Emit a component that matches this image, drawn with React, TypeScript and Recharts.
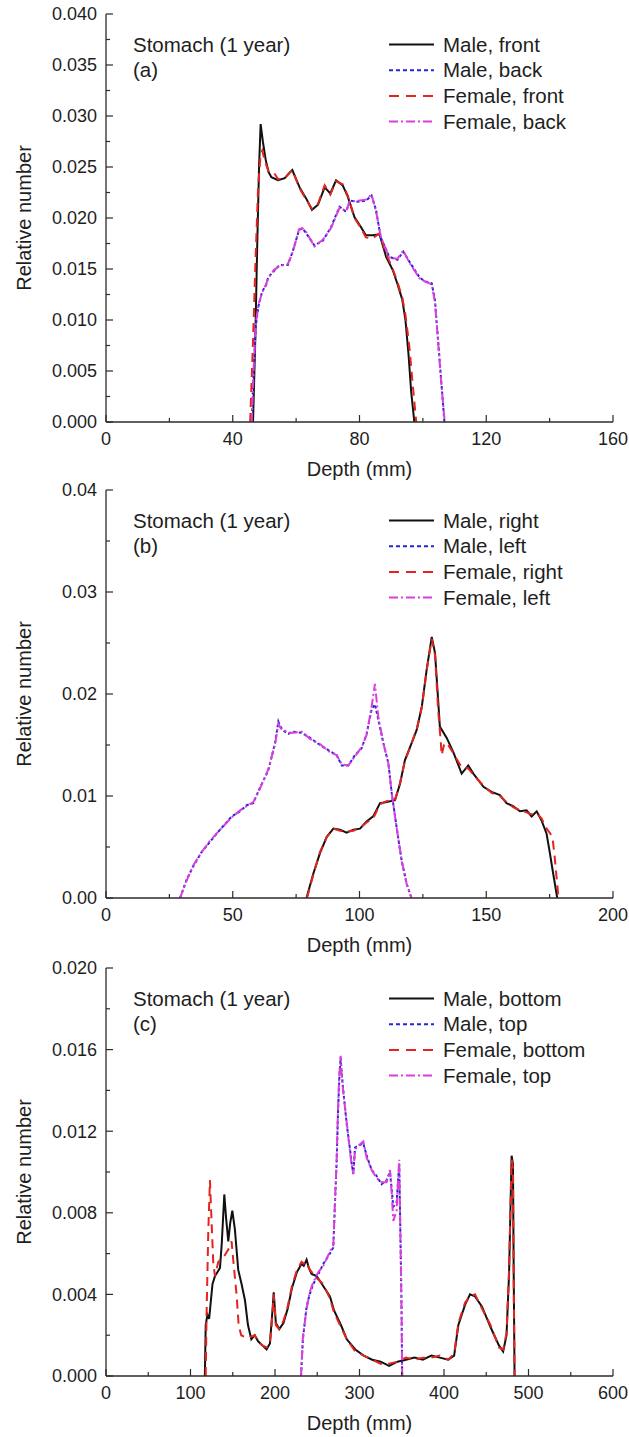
import React from 'react';
import { LineChart, Line, XAxis, YAxis, Legend } from 'recharts';

// ---------------- Panel (a) data: depth (mm), relative number ----------------
const aMaleFront: number[][] = [
  [46.4, 0], [47.1, 0.008], [47.7, 0.017], [48.3, 0.025], [48.8, 0.0292], [49.5, 0.0275], [50.4, 0.0257],
  [51.3, 0.0245], [52.2, 0.024], [54.3, 0.0237], [56.4, 0.0239], [57.8, 0.0244], [58.8, 0.0247], [60, 0.0238],
  [61.1, 0.023], [63.2, 0.0219], [65, 0.0208], [66.9, 0.0213], [68, 0.0222], [69, 0.023], [70.8, 0.0224],
  [72.6, 0.0237], [74.7, 0.0232], [76.3, 0.0221], [78.4, 0.0201], [80.5, 0.0191], [82, 0.0183], [84.1, 0.0183],
  [86.3, 0.0184], [88.4, 0.0162], [90.5, 0.0149], [92, 0.0135], [93.5, 0.012], [94.5, 0.01], [95.5, 0.0065],
  [96.3, 0.003], [97.3, 0],
];
const aMaleBack: number[][] = [
  [46, 0], [46.6, 0.005], [47.3, 0.0095], [48.2, 0.0115], [49.3, 0.0128], [50.5, 0.0134], [51.2, 0.0142],
  [53, 0.0148], [54.8, 0.0154], [57.4, 0.0154], [59, 0.0168], [60.9, 0.0188], [62, 0.019], [63.2, 0.0185],
  [65.8, 0.0173], [68.5, 0.0178], [71, 0.0191], [73.7, 0.0211], [75.8, 0.0206], [76.9, 0.0217], [79.5, 0.0216],
  [82, 0.0217], [83.8, 0.0222], [85.2, 0.0208], [86.7, 0.0181], [89.4, 0.0162], [92, 0.0159], [93.8, 0.0167],
  [95.8, 0.0157], [98.9, 0.0142], [100.5, 0.0138], [102.8, 0.0136], [103.8, 0.012], [104.8, 0.008],
  [105.8, 0.004], [106.8, 0],
];
const aFemaleFront: number[][] = [
  [45.5, 0], [46.4, 0.008], [47.2, 0.016], [48, 0.023], [48.8, 0.0262], [49.3, 0.0266], [50.2, 0.0255],
  [51.3, 0.0246], [52.9, 0.0245], [54.3, 0.0238], [56.4, 0.0239], [58.8, 0.0247], [61.1, 0.0229], [63.2, 0.0218],
  [65, 0.0209], [66.9, 0.0214], [69, 0.0232], [70.8, 0.0223], [72.6, 0.0236], [74.7, 0.0233], [76.3, 0.0222],
  [78.4, 0.02], [80.5, 0.019], [82, 0.0181], [84.1, 0.018], [86.3, 0.0185], [88.4, 0.0165], [90.5, 0.015],
  [92, 0.0137], [93.5, 0.0122], [94.5, 0.0105], [95.7, 0.0075], [96.7, 0.004], [97.9, 0],
];
const aFemaleBack: number[][] = [
  [46, 0], [46.6, 0.0052], [47.3, 0.0097], [48.2, 0.0116], [49.3, 0.0127], [50.5, 0.0135], [51.2, 0.0141],
  [53, 0.0149], [54.8, 0.0153], [57.4, 0.0155], [59, 0.0167], [60.9, 0.0189], [62, 0.019], [63.2, 0.0186],
  [65.8, 0.0172], [68.5, 0.0179], [71, 0.019], [73.7, 0.021], [75.8, 0.0207], [76.9, 0.0216], [79.5, 0.0217],
  [82, 0.0218], [83.8, 0.0223], [85.2, 0.0207], [86.7, 0.0182], [89.4, 0.0161], [92, 0.016], [93.8, 0.0168],
  [95.8, 0.0156], [98.9, 0.0141], [100.5, 0.0138], [102.8, 0.0135], [103.8, 0.0118], [104.8, 0.0079],
  [105.8, 0.0038], [106.9, 0],
];

// ---------------- Panel (b) data ----------------
const bMaleRight: number[][] = [
  [79.1, 0], [81.8, 0.0024], [84.4, 0.0044], [87.1, 0.006], [89.7, 0.0068], [92.3, 0.0067], [94.9, 0.0064],
  [97.6, 0.0067], [100.2, 0.0068], [102.8, 0.0075], [105.4, 0.008], [108.1, 0.0093], [110.7, 0.0094],
  [114, 0.0096], [116, 0.0112], [117.9, 0.0135], [120.6, 0.0152], [122.6, 0.0165], [124.6, 0.0188],
  [126.5, 0.0224], [128.5, 0.0256], [129.8, 0.024], [131.1, 0.0191], [131.7, 0.0168], [134.4, 0.0157],
  [137, 0.0143], [140.3, 0.0122], [142.9, 0.013], [144.9, 0.0122], [148.9, 0.0109], [152.1, 0.0104],
  [155.4, 0.0101], [158, 0.0093], [160.6, 0.009], [163.3, 0.0085], [165.9, 0.0086], [167.9, 0.008],
  [169.9, 0.0085], [171.8, 0.0076], [173.8, 0.0063], [175.1, 0.0044], [176.4, 0.0024], [178, 0],
];
const bMaleLeft: number[][] = [
  [29.2, 0], [31.8, 0.0018], [34.4, 0.0031], [37.7, 0.0045], [41, 0.0055], [45, 0.0067], [49.6, 0.008],
  [52.9, 0.0085], [55.5, 0.0091], [58.1, 0.0093], [60.7, 0.0108], [64, 0.0125], [66.7, 0.0152], [68, 0.0173],
  [68.8, 0.0168], [70, 0.0164], [71.9, 0.0161], [73.9, 0.0163], [77.2, 0.0162], [80.5, 0.0157], [84.4, 0.015],
  [87.7, 0.0145], [91, 0.014], [93, 0.013], [95.6, 0.013], [98.2, 0.014], [100.9, 0.0147], [102.8, 0.0161],
  [104.8, 0.0185], [106.1, 0.019], [107.4, 0.0175], [109.4, 0.0152], [111.4, 0.0132], [112.7, 0.0103],
  [114.6, 0.007], [116.6, 0.0037], [118.6, 0.0014], [120.5, 0],
];
const bFemaleRight: number[][] = [
  [79.3, 0], [81.8, 0.0023], [84.4, 0.0045], [87.1, 0.006], [89.7, 0.0068], [92.3, 0.0066], [94.9, 0.0065],
  [97.6, 0.0066], [100.2, 0.0069], [102.8, 0.0074], [105.4, 0.0078], [108.1, 0.0092], [110.7, 0.0095],
  [114, 0.0096], [116, 0.0113], [117.9, 0.0134], [120.6, 0.0152], [122.6, 0.0166], [124.6, 0.0187],
  [126.5, 0.0223], [128.5, 0.0254], [129.8, 0.0238], [131, 0.0185], [132, 0.0155], [132.4, 0.014],
  [133.5, 0.0152], [135, 0.015], [137, 0.0142], [140.3, 0.0128], [142.9, 0.0127], [144.9, 0.0121],
  [148.9, 0.011], [152.1, 0.0103], [155.4, 0.01], [158, 0.0094], [160.6, 0.0089], [163.3, 0.0086],
  [165.9, 0.0084], [167.9, 0.0082], [169.9, 0.0083], [171.8, 0.0078], [173.8, 0.0068], [175.3, 0.0063],
  [176.2, 0.0058], [177, 0.004], [178.5, 0],
];
const bFemaleLeft: number[][] = [
  [29.2, 0], [31.8, 0.0017], [34.4, 0.0032], [37.7, 0.0045], [41, 0.0056], [45, 0.0067], [49.6, 0.0079],
  [52.9, 0.0086], [55.5, 0.009], [58.1, 0.0094], [60.7, 0.0107], [64, 0.0126], [66.7, 0.0151], [68, 0.0171],
  [69, 0.0166], [70, 0.0165], [71.9, 0.0162], [73.9, 0.0162], [77.2, 0.0163], [80.5, 0.0156], [84.4, 0.0151],
  [87.7, 0.0144], [91, 0.014], [93, 0.0131], [95.6, 0.013], [98.2, 0.0139], [100.9, 0.0148], [102.8, 0.016],
  [104.8, 0.0188], [106.1, 0.021], [107.4, 0.0178], [109.4, 0.0152], [111.4, 0.0132], [112.7, 0.0103],
  [114.6, 0.007], [116.6, 0.0037], [118.6, 0.0014], [120.5, 0],
];

// ---------------- Panel (c) data ----------------
const cMaleBottom: number[][] = [
  [117, 0], [118, 0.0025], [120, 0.003], [122, 0.0028], [123, 0.0032], [126, 0.0045], [129, 0.0049],
  [132, 0.0051], [134.9, 0.0053], [137, 0.0065], [140, 0.0089], [142, 0.0078], [144.7, 0.0066], [147, 0.0075],
  [149.5, 0.0081], [152.5, 0.0072], [156.5, 0.0052], [160.5, 0.0045], [164.5, 0.0037], [168, 0.0025],
  [172, 0.0018], [176, 0.002], [180, 0.0017], [185, 0.0015], [190, 0.0013], [194, 0.0016], [197, 0.0032],
  [198.5, 0.0041], [201, 0.0026], [205, 0.0023], [210, 0.0026], [215, 0.0033], [220, 0.0043], [226, 0.0051],
  [231.5, 0.0055], [234, 0.0054], [237.4, 0.0057], [240, 0.0053], [243.3, 0.005], [249.3, 0.0049],
  [257.2, 0.0044], [265, 0.0039], [270, 0.0032], [278, 0.0025], [285, 0.0018], [295, 0.0013], [305, 0.001],
  [315, 0.0008], [325, 0.0007], [335, 0.0005], [345, 0.0007], [355, 0.0008], [365, 0.0009], [375, 0.0008],
  [385, 0.001], [395, 0.0009], [405, 0.0008], [412, 0.001], [417, 0.0025], [425, 0.0035], [430.8, 0.004],
  [436.7, 0.0039], [445, 0.0034], [455, 0.0024], [465, 0.0015], [470, 0.0012], [474, 0.002], [477, 0.005],
  [480, 0.0108], [481.6, 0.0104], [482.5, 0.005], [483.5, 0],
];
const cMaleTop: number[][] = [
  [230.8, 0], [233, 0.0018], [237.4, 0.0034], [241, 0.004], [245.3, 0.0045], [251.3, 0.005], [257.2, 0.0055],
  [265, 0.006], [269, 0.0063], [271, 0.0085], [272.9, 0.0104], [274.5, 0.0128], [276, 0.0145], [277.7, 0.0156],
  [279, 0.0148], [280.8, 0.014], [284.7, 0.0124], [288.8, 0.0111], [290.5, 0.0105], [292.7, 0.0099],
  [294.7, 0.0112], [299, 0.0113], [304.5, 0.0114], [308.5, 0.0108], [314.4, 0.0101], [320.3, 0.0098],
  [326.2, 0.0094], [332.1, 0.0096], [336.1, 0.01], [338, 0.0092], [340, 0.0083], [343.9, 0.0085],
  [347, 0.0104], [349, 0.0055], [349.8, 0.0032], [350.5, 0],
];
const cFemaleBottom: number[][] = [
  [118, 0], [119, 0.003], [121, 0.007], [123, 0.0096], [125, 0.0075], [127, 0.0055], [129, 0.0049],
  [132.9, 0.0056], [138.9, 0.0058], [144.7, 0.0062], [148.6, 0.0066], [151, 0.0055], [154.5, 0.004],
  [157, 0.0025], [160, 0.002], [165, 0.0019], [170, 0.0019], [176, 0.002], [180, 0.0017], [185, 0.0015],
  [190, 0.0014], [194, 0.0016], [197, 0.003], [198.5, 0.004], [201, 0.0025], [205, 0.0023], [210, 0.0027],
  [215, 0.0034], [220, 0.0044], [226, 0.0052], [231.5, 0.0056], [234, 0.0055], [237.4, 0.0056], [240, 0.0053],
  [243.3, 0.0051], [249.3, 0.0048], [257.2, 0.0045], [265, 0.0038], [270, 0.0031], [278, 0.0024],
  [285, 0.0018], [295, 0.0012], [305, 0.001], [315, 0.0008], [325, 0.0006], [335, 0.0006], [345, 0.0007],
  [355, 0.0009], [365, 0.0008], [375, 0.0009], [385, 0.0009], [395, 0.001], [405, 0.0008], [412, 0.0011],
  [417, 0.0026], [425, 0.0036], [430.8, 0.0039], [436.7, 0.004], [445, 0.0033], [455, 0.0025], [465, 0.0014],
  [470, 0.0013], [474, 0.0021], [477, 0.0052], [480, 0.0106], [481.6, 0.0102], [482.5, 0.0045], [483.5, 0],
];
const cFemaleTop: number[][] = [
  [230.8, 0], [233, 0.0019], [237.4, 0.0033], [241, 0.0041], [245.3, 0.0046], [251.3, 0.0051], [257.2, 0.0054],
  [265, 0.0061], [269, 0.0064], [271, 0.0086], [272.9, 0.0105], [274.5, 0.013], [276, 0.0147], [277.7, 0.0157],
  [279, 0.0147], [280.8, 0.0139], [284.7, 0.0125], [288.8, 0.011], [290.5, 0.0104], [292.7, 0.0099],
  [294.7, 0.0111], [299, 0.0113], [304.5, 0.0115], [308.5, 0.0107], [314.4, 0.0101], [320.3, 0.0097],
  [326.2, 0.0095], [332.1, 0.0095], [336.1, 0.0101], [338, 0.009], [340, 0.0076], [343.9, 0.0081],
  [347, 0.0106], [349, 0.0053], [349.8, 0.003], [350.5, 0],
];

// ---------------- axes: ticks and labels ----------------
const aXTicks = [0, 20, 40, 60, 80, 100, 120, 140, 160];
const aXMajor = [0, 40, 80, 120, 160];
const aYTicks = [0, 0.0025, 0.005, 0.0075, 0.01, 0.0125, 0.015, 0.0175, 0.02, 0.0225, 0.025, 0.0275, 0.03, 0.0325, 0.035, 0.0375, 0.04];
const aYMajor = [0, 0.005, 0.01, 0.015, 0.02, 0.025, 0.03, 0.035, 0.04];

const bXTicks = [0, 25, 50, 75, 100, 125, 150, 175, 200];
const bXMajor = [0, 50, 100, 150, 200];
const bYTicks = [0, 0.005, 0.01, 0.015, 0.02, 0.025, 0.03, 0.035, 0.04];
const bYMajor = [0, 0.01, 0.02, 0.03, 0.04];

const cXTicks = [0, 50, 100, 150, 200, 250, 300, 350, 400, 450, 500, 550, 600];
const cXMajor = [0, 100, 200, 300, 400, 500, 600];
const cYTicks = [0, 0.002, 0.004, 0.006, 0.008, 0.01, 0.012, 0.014, 0.016, 0.018, 0.02];
const cYMajor = [0, 0.004, 0.008, 0.012, 0.016, 0.02];

const aNames = ['Male, front', 'Male, back', 'Female, front', 'Female, back'];
const bNames = ['Male, right', 'Male, left', 'Female, right', 'Female, left'];
const cNames = ['Male, bottom', 'Male, top', 'Female, bottom', 'Female, top'];

const panelTitle = 'Stomach (1 year)';
const xTitle = 'Depth (mm)';
const yTitle = 'Relative number';

// ---------------- styles ----------------
const FONT = '"Liberation Sans", Arial, Helvetica, sans-serif';
const AXIS = '#2b2b2b';
const TEXT = '#1e1e1e';
const STYLES = [
  { color: '#111111', dash: undefined as string | undefined, legendDash: undefined as string | undefined, width: 2 },
  { color: '#2626d4', dash: '3 2.5', legendDash: '4 3', width: 2 },
  { color: '#e3241f', dash: '9 6', legendDash: '10 7', width: 2 },
  { color: '#dd3ddd', dash: '9 3 2 3', legendDash: '9 3 2 3', width: 2 },
];

const PLOT_LEFT = 106;
const PLOT_TOP = 14;
const RIGHT_M = 16;
const CH_W = 629;
const CH_H = 482;
const XAX_H = 60;
const PLOT_W = CH_W - PLOT_LEFT - RIGHT_M;
const PLOT_H = CH_H - PLOT_TOP - XAX_H;

const toPts = (arr: number[][]) => arr.map(([x, y]) => ({ x, y }));

function isMajor(v: number, majors: number[]) {
  return majors.some((m) => Math.abs(m - v) < 1e-9);
}

function makeTick(side: 'bottom' | 'top' | 'left' | 'right', majors: number[], fmt?: (v: number) => string) {
  return (props: any) => {
    const { x, y, payload } = props;
    const v = payload.value as number;
    const major = isMajor(v, majors);
    const len = major ? 7 : 4;
    let line: React.ReactNode = null;
    let label: React.ReactNode = null;
    if (side === 'bottom') {
      line = <line x1={x} y1={y} x2={x} y2={y - len} stroke={AXIS} strokeWidth={1.2} />;
      if (major && fmt)
        label = (
          <text x={x} y={y + 23} textAnchor="middle" fontSize={18} fontFamily={FONT} fill={TEXT}>
            {fmt(v)}
          </text>
        );
    } else if (side === 'top') {
      line = <line x1={x} y1={y} x2={x} y2={y + len} stroke={AXIS} strokeWidth={1.2} />;
    } else if (side === 'left') {
      line = <line x1={x} y1={y} x2={x + len} y2={y} stroke={AXIS} strokeWidth={1.2} />;
      if (major && fmt)
        label = (
          <text x={x - 9} y={y} dy="0.36em" textAnchor="end" fontSize={18} fontFamily={FONT} fill={TEXT}>
            {fmt(v)}
          </text>
        );
    } else {
      line = <line x1={x} y1={y} x2={x - len} y2={y} stroke={AXIS} strokeWidth={1.2} />;
    }
    return (
      <g>
        {line}
        {label}
      </g>
    );
  };
}

type PanelProps = {
  top: number;
  tag: string;
  names: string[];
  series: number[][][];
  xDomain: [number, number];
  xTicks: number[];
  xMajor: number[];
  yDomain: [number, number];
  yTicks: number[];
  yMajor: number[];
  yDigits: number;
};

function PanelLegend({ tag, names }: { tag: string; names: string[] }) {
  const base = 37.5;
  const step = 25.7;
  return (
    <svg width={PLOT_W} height={130} style={{ display: 'block', overflow: 'visible' }}>
      <text x={27} y={base} fontSize={20.5} fontFamily={FONT} fill={TEXT}>
        {panelTitle}
      </text>
      <text x={27} y={base + step} fontSize={20.5} fontFamily={FONT} fill={TEXT}>
        {`(${tag})`}
      </text>
      {names.map((n, i) => (
        <g key={n}>
          <line
            x1={283}
            x2={328}
            y1={base + step * i - 7}
            y2={base + step * i - 7}
            stroke={STYLES[i].color}
            strokeWidth={2}
            strokeDasharray={STYLES[i].legendDash}
          />
          <text x={337} y={base + step * i} fontSize={20.5} fontFamily={FONT} fill={TEXT}>
            {n}
          </text>
        </g>
      ))}
    </svg>
  );
}

function Panel(p: PanelProps) {
  const fmtX = (v: number) => String(v);
  const fmtY = (v: number) => v.toFixed(p.yDigits);
  const axisLine = { stroke: AXIS, strokeWidth: 1.3 };
  return (
    <div style={{ position: 'absolute', left: 0, top: p.top, width: CH_W, height: CH_H }}>
      <LineChart width={CH_W} height={CH_H} margin={{ top: PLOT_TOP, right: RIGHT_M, bottom: 0, left: 0 }}>
        <XAxis
          xAxisId="bottom"
          orientation="bottom"
          type="number"
          dataKey="x"
          domain={p.xDomain}
          ticks={p.xTicks}
          interval={0}
          allowDataOverflow
          height={XAX_H}
          tickSize={0}
          tickMargin={0}
          tickLine={false}
          axisLine={axisLine}
          tick={makeTick('bottom', p.xMajor, fmtX)}
          label={() => (
            <text
              x={PLOT_LEFT + PLOT_W / 2}
              y={PLOT_TOP + PLOT_H + 54}
              textAnchor="middle"
              fontSize={20}
              fontFamily={FONT}
              fill={TEXT}
            >
              {xTitle}
            </text>
          )}
        />
        <XAxis
          xAxisId="top"
          orientation="top"
          type="number"
          dataKey="x"
          domain={p.xDomain}
          ticks={p.xTicks}
          interval={0}
          allowDataOverflow
          height={0}
          tickSize={0}
          tickMargin={0}
          tickLine={false}
          axisLine={axisLine}
          tick={makeTick('top', p.xMajor)}
        />
        <YAxis
          yAxisId="left"
          orientation="left"
          type="number"
          domain={p.yDomain}
          ticks={p.yTicks}
          interval={0}
          allowDataOverflow
          width={PLOT_LEFT}
          tickSize={0}
          tickMargin={0}
          tickLine={false}
          axisLine={axisLine}
          tick={makeTick('left', p.yMajor, fmtY)}
          label={() => {
            const cx = 31;
            const cy = PLOT_TOP + PLOT_H / 2;
            return (
              <text
                x={cx}
                y={cy}
                transform={`rotate(-90, ${cx}, ${cy})`}
                textAnchor="middle"
                fontSize={20}
                fontFamily={FONT}
                fill={TEXT}
              >
                {yTitle}
              </text>
            );
          }}
        />
        <YAxis
          yAxisId="right"
          orientation="right"
          type="number"
          domain={p.yDomain}
          ticks={p.yTicks}
          interval={0}
          allowDataOverflow
          width={0}
          tickSize={0}
          tickMargin={0}
          tickLine={false}
          axisLine={axisLine}
          tick={makeTick('right', p.yMajor)}
        />
        <Legend
          layout="horizontal"
          align="center"
          verticalAlign="middle"
          width={PLOT_W}
          height={130}
          wrapperStyle={{ left: PLOT_LEFT, top: PLOT_TOP, width: PLOT_W, height: 130, pointerEvents: 'none' }}
          content={() => <PanelLegend tag={p.tag} names={p.names} />}
        />
        {p.series.map((s, i) => (
          <Line
            key={p.names[i]}
            name={p.names[i]}
            xAxisId="bottom"
            yAxisId="left"
            data={toPts(s)}
            dataKey="y"
            type="linear"
            stroke={STYLES[i].color}
            strokeWidth={STYLES[i].width}
            strokeDasharray={STYLES[i].dash}
            dot={false}
            activeDot={false}
            isAnimationActive={false}
          />
        ))}
      </LineChart>
    </div>
  );
}

export default function App() {
  return (
    <div style={{ position: 'absolute', left: 0, top: 0, width: 629, height: 1437, background: '#ffffff' }}>
      <Panel
        top={0}
        tag="a"
        names={aNames}
        series={[aMaleFront, aMaleBack, aFemaleFront, aFemaleBack]}
        xDomain={[0, 160]}
        xTicks={aXTicks}
        xMajor={aXMajor}
        yDomain={[0, 0.04]}
        yTicks={aYTicks}
        yMajor={aYMajor}
        yDigits={3}
      />
      <Panel
        top={476}
        tag="b"
        names={bNames}
        series={[bMaleRight, bMaleLeft, bFemaleRight, bFemaleLeft]}
        xDomain={[0, 200]}
        xTicks={bXTicks}
        xMajor={bXMajor}
        yDomain={[0, 0.04]}
        yTicks={bYTicks}
        yMajor={bYMajor}
        yDigits={2}
      />
      <Panel
        top={954}
        tag="c"
        names={cNames}
        series={[cMaleBottom, cMaleTop, cFemaleBottom, cFemaleTop]}
        xDomain={[0, 600]}
        xTicks={cXTicks}
        xMajor={cXMajor}
        yDomain={[0, 0.02]}
        yTicks={cYTicks}
        yMajor={cYMajor}
        yDigits={3}
      />
    </div>
  );
}
